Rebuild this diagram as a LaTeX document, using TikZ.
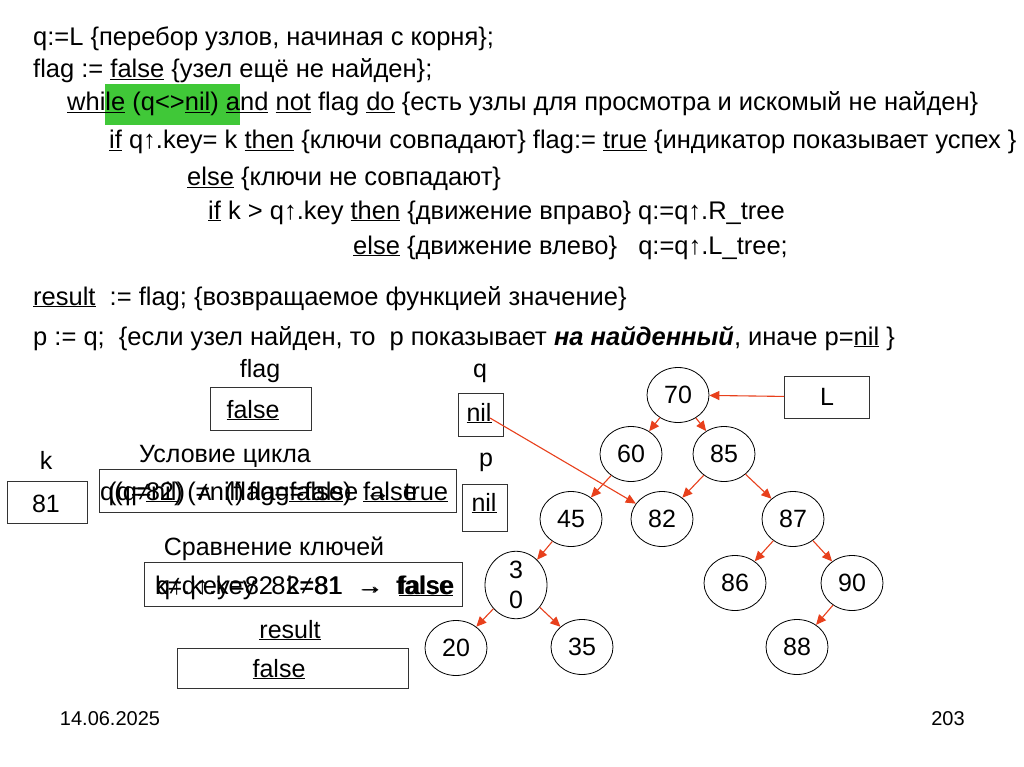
\documentclass[tikz,border=0pt]{standalone}
\usepackage{fontspec}
\setmainfont{Liberation Sans}
\usetikzlibrary{shapes.geometric,arrows.meta}
\definecolor{arr}{RGB}{232,64,28}
\definecolor{hl}{RGB}{64,200,56}
\begin{document}
\begin{tikzpicture}[x=1pt,y=-1pt,
  code/.style={anchor=base west,inner sep=0pt,font=\fontsize{25.5}{30}\selectfont},
  lbl/.style={anchor=base,inner sep=0pt,font=\fontsize{25}{30}\selectfont},
  val/.style={anchor=base,inner sep=0pt,font=\fontsize{25}{30}\selectfont},
  box/.style={draw=black!80,line width=0.8pt},
  tnode/.style={draw=black,ellipse,line width=0.8pt,minimum width=62pt,minimum height=55pt,inner sep=0pt,font=\fontsize{25}{25}\selectfont},
  tarr/.style={draw=arr,line width=1.1pt,-{Triangle[length=10pt,width=9pt]}},
  foot/.style={anchor=base,inner sep=0pt,font=\fontsize{20}{24}\selectfont}]
\useasboundingbox (0,0) rectangle (1024,767);
\fill[white] (0,0) rectangle (1024,767);
% highlight
\fill[hl] (105,84) rectangle (240,125);
% code lines
\node[code] (l1) at (33,46) {q:=L \{перебор узлов, начиная с корня\};};
\node[code] (l2) at (33,78) {flag := \underline{false} \{узел ещё не найден\};};
\node[code] (l3) at (67,111) {\underline{while} (q<>\underline{nil}) \underline{and} \underline{not} flag \underline{do} \{есть узлы для просмотра и искомый не найден\}};
\node[code] (l4) at (109,149) {\underline{if} q↑.key= k \underline{then} \{ключи совпадают\} flag:= \underline{true} \{индикатор показывает успех \}};
\node[code] (l5) at (187,186) {\underline{else} \{ключи не совпадают\}};
\node[code] (l6) at (208,219) {\underline{if} k > q↑.key \underline{then} \{движение вправо\} q:=q↑.R\_tree};
\node[code] (l7) at (353,254) {\underline{else} \{движение влево\}\ \ \ q:=q↑.L\_tree;};
\node[code] (l8) at (33,305) {\underline{result}\ \ := flag; \{возвращаемое функцией значение\}};
\node[code] (l9) at (33,345) {p := q;\ \ \{если узел найден, то\ \ p показывает \textbf{\textit{на найденный}}, иначе p=\underline{nil} \}};
% variables
\node[lbl] (flagl) at (260,377) {flag};
\draw[box] (210,387) rectangle (311,430);
\node[val] (flagv) at (253,418) {\underline{false}};
\node[lbl] (ql) at (480,377) {q};
\draw[box] (458,393) rectangle (503,436);
\node[val] (qv) at (479,421) {\underline{nil}};
\node[lbl] (pl) at (486,466) {p};
\draw[box] (462,484) rectangle (507,531);
\node[val] (pv) at (484,511) {\underline{nil}};
\node[lbl] (kl) at (46,469) {k};
\draw[box] (7,481) rectangle (87,523);
\node[val] (kv) at (46,512) {81};
\node[lbl] (condl) at (225,462) {Условие цикла};
\draw[box] (99,469) rectangle (456,512);
\node[code] (c1) at (100,500) {\makebox[348pt][s]{q(q≠\underline{nil}) ʌ (flag=\underline{false}) → \underline{true}}};
\node[code] (c2) at (108,500) {\makebox[300pt][s]{(q=\underline{82}) (≠nil) flag=false \underline{false}}};
\node[lbl] (cmpl) at (274,555) {Сравнение ключей};
\draw[box] (144,562) rectangle (462,606);
\node[code] (k1) at (155,594) {\makebox[298pt][s]{k≠q↑.key 82≠81 → \underline{false}}};
\node[code] (k2) at (156,594) {\makebox[298pt][s]{q↑.key=82 k=81 → \textbf{false}}};
\node[lbl] (resl) at (290,638) {\underline{result}};
\draw[box] (177,648) rectangle (408,688);
\node[val] (resv) at (279,677) {\underline{false}};
% tree
\node[tnode] (n70) at (678,395) {70};
\node[tnode] (n60) at (631,454) {60};
\node[tnode] (n85) at (724,454) {85};
\node[tnode] (n45) at (571,519) {45};
\node[tnode] (n82) at (662,519) {82};
\node[tnode] (n87) at (793,519) {87};
\node[tnode,align=center,font=\fontsize{25}{30}\selectfont] (n30) at (516,585) {3\\0};
\node[tnode] (n86) at (735,583) {86};
\node[tnode] (n90) at (852,583) {90};
\node[tnode] (n20) at (456,648) {20};
\node[tnode] (n35) at (582,647) {35};
\node[tnode] (n88) at (797,647) {88};
\node[box,minimum width=85pt,minimum height=42pt,inner sep=0pt,font=\fontsize{25}{25}\selectfont] (L) at (827,397) {L};
\draw[tarr] (n70) -- (n60);
\draw[tarr] (n70) -- (n85);
\draw[tarr] (n60) -- (n45);
\draw[tarr] (n85) -- (n82);
\draw[tarr] (n85) -- (n87);
\draw[tarr] (n45) -- (n30);
\draw[tarr] (n87) -- (n86);
\draw[tarr] (n87) -- (n90);
\draw[tarr] (n30) -- (n20);
\draw[tarr] (n30) -- (n35);
\draw[tarr] (n90) -- (n88);
\draw[tarr] (L) -- (n70);
\coordinate (qs) at (490,418);
\draw[tarr] (qs) -- (n82);
% footer
\node[foot] (date) at (110,725) {14.06.2025};
\node[foot] (page) at (948,725) {203};
\end{tikzpicture}
\end{document}
